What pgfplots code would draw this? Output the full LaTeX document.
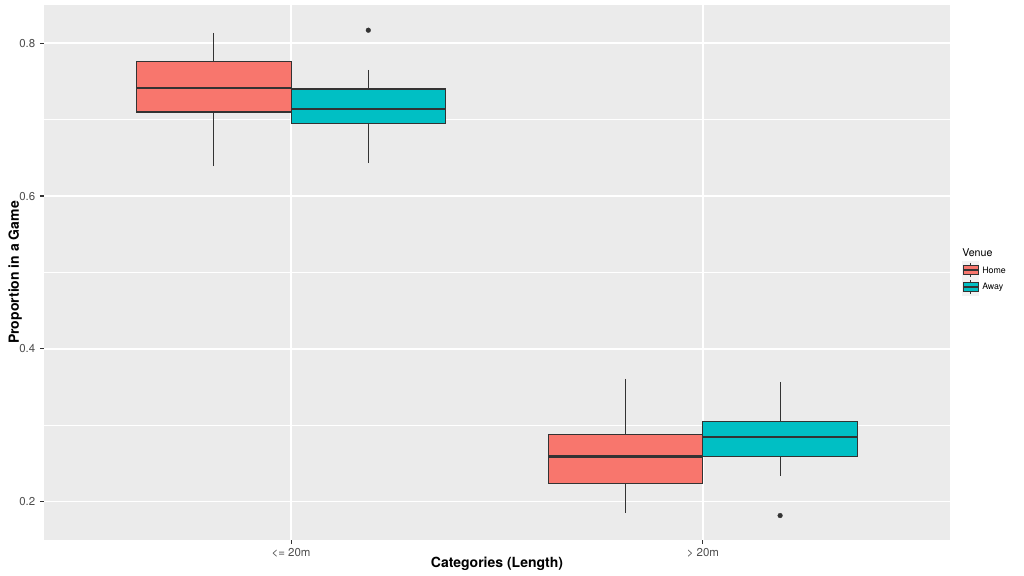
\documentclass[border=0pt]{standalone}
\usepackage{pgfplots}
\pgfplotsset{compat=1.18}
\usepgfplotslibrary{statistics}
\usepackage{fontspec}
\setmainfont{TeX Gyre Heros}

\definecolor{panelbg}{HTML}{EBEBEB}
\definecolor{homecol}{HTML}{F8766D}
\definecolor{awaycol}{HTML}{00BFC4}
\definecolor{grey20}{HTML}{333333}
\definecolor{grey30}{HTML}{4D4D4D}
\definecolor{grey95}{HTML}{F2F2F2}

\pgfplotsset{
  ggbox/.style={draw=grey20, line width=0.85pt,
    boxplot/draw direction=y,
    boxplot/every median/.style={line width=1.8pt},
    mark=*, mark size=1.8pt, mark options={solid, fill=grey20, draw=grey20, line width=0.2pt}},
}

\begin{document}
\begin{tikzpicture}
\begin{axis}[
  scale only axis,
  width=679.5pt, height=401.25pt,
  xmin=0.4, xmax=2.6, ymin=0.15, ymax=0.85,
  axis background/.style={fill=panelbg},
  axis line style={draw=none},
  xtick={1,2}, xticklabels={{<= 20m},{> 20m}},
  ytick={0.2,0.4,0.6,0.8},
  minor ytick={0.3,0.5,0.7},
  grid=both,
  major grid style={white, line width=1.07pt},
  minor grid style={white, line width=0.53pt},
  tick align=outside, tick pos=left,
  major tick length=3pt, minor tick length=0pt,
  tick style={grey20, line width=0.85pt},
  ticklabel style={font=\fontsize{8.6}{10}\selectfont, text=grey30},
  /pgf/number format/assume math mode=true,
]
% <= 20m
\addplot[ggbox, fill=homecol, boxplot prepared={
  lower whisker=0.639, lower quartile=0.710, median=0.741,
  upper quartile=0.776, upper whisker=0.814,
  draw position=0.8125, box extend=0.375, whisker extend=0}] coordinates {};
\addplot[ggbox, fill=awaycol, boxplot prepared={
  lower whisker=0.643, lower quartile=0.695, median=0.714,
  upper quartile=0.740, upper whisker=0.765,
  draw position=1.1875, box extend=0.375, whisker extend=0}] coordinates {(0,0.817)};
% > 20m
\addplot[ggbox, fill=homecol, boxplot prepared={
  lower whisker=0.185, lower quartile=0.224, median=0.259,
  upper quartile=0.288, upper whisker=0.361,
  draw position=1.8125, box extend=0.375, whisker extend=0}] coordinates {};
\addplot[ggbox, fill=awaycol, boxplot prepared={
  lower whisker=0.234, lower quartile=0.259, median=0.285,
  upper quartile=0.305, upper whisker=0.357,
  draw position=2.1875, box extend=0.375, whisker extend=0}] coordinates {(0,0.182)};
\end{axis}

% axis titles
\node[anchor=base, font=\bfseries\fontsize{10.5}{12}\selectfont]
  at ([yshift=-20.6pt]current axis.south) {Categories (Length)};
\node[rotate=90, anchor=base, font=\bfseries\fontsize{10.5}{12}\selectfont]
  at ([xshift=-18.75pt]current axis.west) {Proportion in a Game};

% legend
\node[anchor=base west, inner sep=0pt, font=\fontsize{8}{9.6}\selectfont]
  at ([xshift=9pt,yshift=-189pt]current axis.north east) {Venue};
\path ([xshift=15.4pt,yshift=-198.75pt]current axis.north east) coordinate (k1)
      ([xshift=15.4pt,yshift=-211.5pt]current axis.north east) coordinate (k2);
\foreach \k/\c in {k1/homecol, k2/awaycol} {
  \begin{scope}[shift={(\k)}]
    \fill[grey95] (-6.4pt,-6.4pt) rectangle (6.4pt,6.4pt);
    \draw[grey20, line width=0.7pt] (0,3.4pt) -- (0,5.3pt) (0,-3.4pt) -- (0,-5.3pt);
    \draw[grey20, line width=0.7pt, fill=\c] (-5.6pt,-3.4pt) rectangle (5.6pt,3.4pt);
    \draw[grey20, line width=1.4pt] (-5.6pt,0) -- (5.6pt,0);
  \end{scope}
}
\node[anchor=west, inner sep=0pt, font=\fontsize{6.6}{8}\selectfont]
  at ([xshift=8.6pt]k1) {Home};
\node[anchor=west, inner sep=0pt, font=\fontsize{6.6}{8}\selectfont]
  at ([xshift=8.6pt]k2) {Away};

\pgfresetboundingbox
\path[use as bounding box] ([shift={(-33pt,-27pt)}]current axis.south west)
  rectangle ([shift={(55.5pt,3.75pt)}]current axis.north east);
\end{tikzpicture}
\end{document}
